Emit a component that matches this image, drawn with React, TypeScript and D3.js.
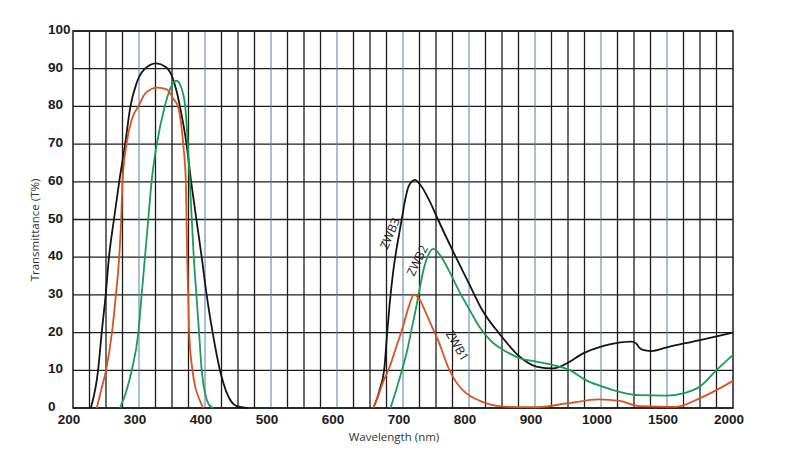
import React from "react";
import * as d3 from "d3";

type Pt = [number, number];

const X_TICKS = [200, 300, 400, 500, 600, 700, 800, 900, 1000, 1500, 2000];
const Y_TICKS = [0, 10, 20, 30, 40, 50, 60, 70, 80, 90, 100];

const zwb3Uv: Pt[] = [[227,0],[238,10],[243.5,20],[249.5,30],[254.5,40],[262,50],[270,60],[279,70],[287,80],[296,86],[308,89.8],[326,91.4],[340,90.5],[350,88],[357,84],[362,80],[372,70],[379,60],[383,55],[387,50],[395,40],[402.5,30],[411.6,20],[422.7,10],[433,4],[448,0.5],[465,0]];
const zwb3Nir: Pt[] = [[655,0],[665,5],[672,11],[676,20],[680,28],[685,36],[690,42],[694,46],[699,51],[703,55],[709,59],[718,60.5],[727,59],[740,55],[753,50],[776,41.5],[800,33],[820,26],[847,19.5],[877,13.6],[902,11],[928,10.5],[948,11.8],[973,14.5],[1000,16.3],[1114,17.2],[1227,17.6],[1265,17.2],[1290,16],[1316,15.4],[1379,15.1],[1500,16.1],[1750,18],[2000,20]];

const zwb2Uv: Pt[] = [[271,0],[280,4],[289,10],[299,20],[304,30],[309,40],[314,50],[319,60],[327,70],[339,80],[348,85],[357,86.8],[364,85],[370,80],[374,70],[377,60],[380,50],[383,40],[387,30],[391,20],[395,10],[400,4],[405,1.2],[412,0]];
const zwb2Nir: Pt[] = [[681,0],[690,5],[700,11],[706,15],[712,20],[718,25],[723,29.5],[731,36.6],[738,40.5],[746,42.2],[752,41.5],[760,39.5],[770,36.3],[785,31],[801,26],[817,21.2],[835,17.5],[854,15.2],[877,13.2],[902,12.3],[927,11.4],[952,10.1],[977,7.4],[1000,5.8],[1139,4.3],[1290,3.4],[1492,3.3],[1644,4.1],[1750,5.7],[1876,10.1],[2000,14.1]];

const zwb1Uv: Pt[] = [[236,0],[243,5],[250,10],[259,20],[265,30],[270,40],[273,50],[275,60],[281,70],[290,77],[299,80],[310,83.5],[328,85],[342,84.5],[352,82],[359,80],[367,70],[371,60],[372,50],[373,40],[374.5,30],[376,20],[381,10],[386,5],[390,3],[397,0]];
const zwb1Nir: Pt[] = [[655,0],[662,3],[670,7],[680,11],[690,16.3],[700,21.6],[708,26.5],[717,30.1],[726,28.5],[735,25.1],[744,21.5],[753,18],[768,11],[780,7],[795,4],[814,2.1],[830,1],[854,0.35],[902,0.2],[948,1.2],[997,2.3],[1139,1.9],[1290,0.5],[1568,0.3],[1750,2.6],[2000,7.2]];

const SERIES = [
  { name: "ZWB3", color: "#141414", parts: [zwb3Uv, zwb3Nir] },
  { name: "ZWB2", color: "#1e9a58", parts: [zwb2Uv, zwb2Nir] },
  { name: "ZWB1", color: "#d8531f", parts: [zwb1Uv, zwb1Nir] },
];

// curve label anchors in data space: wavelength, transmittance, rotation
const CURVE_LABELS: { name: string; w: number; t: number; rot: number }[] = [
  { name: "ZWB3", w: 681.5, t: 46.2, rot: -67 },
  { name: "ZWB2", w: 723, t: 39, rot: -64 },
  { name: "ZWB1", w: 781, t: 16.4, rot: 60 },
];

const W = 800, H = 454;
const L = 73, R = 733, T = 31, B = 408;

export default function App() {
  const x = d3
    .scaleLinear()
    .domain(X_TICKS)
    .range(X_TICKS.map((_, i) => L + (i * (R - L)) / (X_TICKS.length - 1)));
  const y = d3.scaleLinear().domain([0, 100]).range([B, T]);

  const minor: number[] = [];
  for (let i = 0; i < X_TICKS.length - 1; i++) {
    const a = X_TICKS[i], b = X_TICKS[i + 1];
    for (let k = 1; k < 4; k++) minor.push(a + ((b - a) * k) / 4);
  }

  const line = d3
    .line<Pt>()
    .x((d) => x(d[0]))
    .y((d) => y(d[1]))
    .curve(d3.curveMonotoneX);

  const gridColor = "#1c1c1c";
  const blue = "#4e7fb8";

  return (
    <svg
      width={W}
      height={H}
      style={{ position: "absolute", left: 0, top: 0, background: "#fff" }}
    >
      <rect x={0} y={0} width={W} height={H} fill="#fff" />
      {Y_TICKS.map((t) => (
        <line key={"h" + t} x1={L} x2={R} y1={y(t)} y2={y(t)} stroke={gridColor} strokeWidth={1.3} />
      ))}
      {minor.map((w) => (
        <line key={"m" + w} x1={x(w)} x2={x(w)} y1={T} y2={B} stroke={gridColor} strokeWidth={1.3} />
      ))}
      {X_TICKS.slice(1, -1).map((w) => (
        <line key={"b" + w} x1={x(w)} x2={x(w)} y1={T} y2={B} stroke={blue} strokeWidth={1} />
      ))}
      <rect x={L} y={T} width={R - L} height={B - T} fill="none" stroke={gridColor} strokeWidth={1.5} />

      {SERIES.map((s) =>
        s.parts.map((p, i) => (
          <path key={s.name + i} d={line(p) || ""} fill="none" stroke={s.color} strokeWidth={1.8} strokeLinejoin="round" />
        ))
      )}

      {CURVE_LABELS.map((c) => (
        <text
          key={c.name}
          transform={`translate(${x(c.w)},${y(c.t)}) rotate(${c.rot})`}
          textAnchor="middle"
          dominantBaseline="middle"
          fontFamily="'Open Sans', sans-serif"
          fontSize={12}
          fill="#1a1a1a"
        >
          {c.name}
        </text>
      ))}

      {Y_TICKS.map((t) => (
        <text
          key={"yl" + t}
          x={48}
          y={y(t) + 3}
          fontFamily="'Liberation Sans', Arial, sans-serif"
          fontWeight="bold"
          fontSize={13.5}
          fill="#1a1a1a"
        >
          {t}
        </text>
      ))}
      {X_TICKS.map((w) => (
        <text
          key={"xl" + w}
          x={x(w) - 4}
          y={424}
          textAnchor="middle"
          fontFamily="'Liberation Sans', Arial, sans-serif"
          fontWeight="bold"
          fontSize={13.5}
          fill="#1a1a1a"
        >
          {w}
        </text>
      ))}

      <text
        x={394}
        y={441}
        textAnchor="middle"
        fontFamily="'Open Sans', sans-serif"
        fontSize={11.5}
        fill="#333"
      >
        Wavelength (nm)
      </text>
      <text
        transform="translate(39,230) rotate(-90)"
        textAnchor="middle"
        fontFamily="'Open Sans', sans-serif"
        fontSize={11.5}
        fill="#333"
      >
        Transmittance (T%)
      </text>
    </svg>
  );
}
